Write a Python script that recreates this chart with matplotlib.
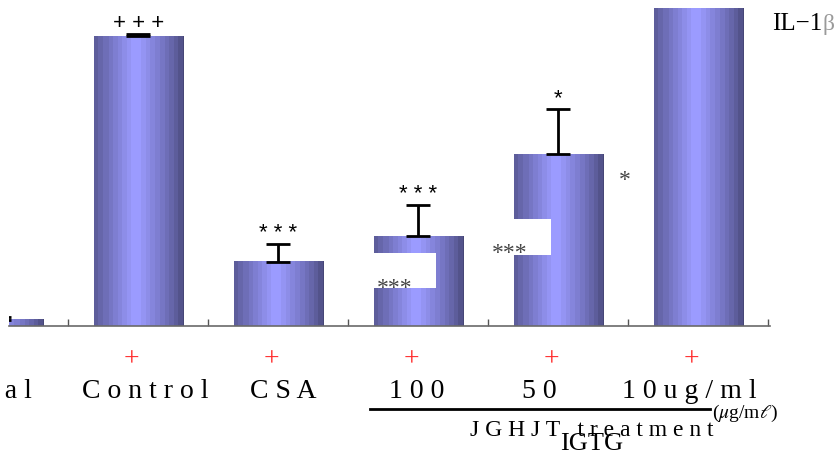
import numpy as np
import matplotlib.pyplot as plt
from matplotlib.patches import Rectangle

plt.rcParams['mathtext.fontset'] = 'stix'
SERIF = ['Liberation Serif', 'DejaVu Serif']
SANS = ['Liberation Sans', 'DejaVu Sans']

# data (IL-1beta, % of LPS control)
categories = ["N o r m a l", "C o n t r o l", "C S A", "1 0 0", "5 0", "1 0 u g / m l"]
il1b = [2.1, 100.0, 22.1, 31.0, 59.3, 110.0]
sem = [1.0, 0.7, 6.2, 10.7, 15.5, 0.0]
lps = ["", "+", "+", "+", "+", "+"]
marks = ["", "+ + +", "* * *", "* * *", "*", ""]

# label nudges in pixels (layout only)
label_dx = [-27, 7, 5, -2, -19, -9]

W, H = 839, 456
fig = plt.figure(figsize=(W / 100, H / 100), dpi=100)
ax = fig.add_axes([9 / W, 129 / H, 761 / W, 318 / H])

x = np.arange(len(categories))
bars = ax.bar(x, il1b, width=0.636, color='none', edgecolor='none', zorder=2)

# banded cylinder-like gradient
dark = np.array([70, 70, 118]) / 255
light = np.array([155, 155, 255]) / 255
u = np.linspace(0, 1, 80)
t = 1 - np.abs(u - 0.47) / 0.53
t = np.ceil(t * 10) / 10
img = (dark + (light - dark) * t[:, None] ** 0.8)[None, :, :]
for b in bars:
    x0, w, h = b.get_x(), b.get_width(), b.get_height()
    im = ax.imshow(img, extent=(x0, x0 + w, 0, h), aspect='auto',
                   interpolation='nearest', zorder=2)
    im.set_clip_path(b)
    im.set_clip_box(ax.bbox)

sem = np.array(sem)
il1b = np.array(il1b)
ok = sem > 0
ax.errorbar(x[ok], il1b[ok], yerr=[np.zeros(ok.sum()), sem[ok]], fmt='none',
            ecolor='k', elinewidth=2, capsize=8.6, capthick=2, zorder=3)

for i, m in enumerate(marks):
    if m:
        ax.annotate(m, (x[i], il1b[i] + sem[i]), xytext=(0, 1),
                    textcoords='offset points', ha='center', va='bottom',
                    fontsize=16, family=SANS)

# white boxes with grey asterisks on the 100 and 50 bars
ax.add_patch(Rectangle((x[3] - 0.318, 13.1), 0.443, 12.1, facecolor='white',
                       edgecolor='none', zorder=4))
ax.add_patch(Rectangle((x[4] - 0.489, 24.5), 0.435, 12.4, facecolor='white',
                       edgecolor='none', zorder=4))
ax.text(x[3] - 0.168, 11.5, "***", ha='center', va='baseline', fontsize=17,
        family=SERIF, color='#444444', zorder=5)
ax.text(x[4] - 0.346, 23.3, "***", ha='center', va='baseline', fontsize=17,
        family=SERIF, color='#444444', zorder=5)
ax.text(x[4] + 0.475, 48.5, "*", ha='center', va='baseline', fontsize=17,
        family=SERIF, color='#444444', zorder=5)

ax.set_xlim(0.075, 5.511)
ax.set_ylim(0, 109.7)
for s in ['top', 'right', 'left']:
    ax.spines[s].set_visible(False)
ax.spines['bottom'].set_color('#6a6a6a')
ax.spines['bottom'].set_linewidth(1.2)
ax.set_yticks([])
ax.set_xticks(np.arange(0.5, 6, 1))
ax.tick_params(axis='x', direction='in', length=5, width=1, color='#555555',
               labelbottom=False)

trans = ax.get_xaxis_transform()
for i, (c, p) in enumerate(zip(categories, lps)):
    if p:
        ax.annotate(p, (x[i], 0), xycoords=trans, xytext=(-7, -33),
                    textcoords='offset pixels', ha='center', va='center',
                    fontsize=20, family=SERIF, color='#ff2a2a')
    ax.annotate(c, (x[i], 0), xycoords=trans, xytext=(label_dx[i], -71),
                textcoords='offset pixels', ha='center', va='baseline',
                fontsize=20, family=SERIF)

# bracket under the JGHJT doses
ax.plot([x[3] - 0.346, x[5] + 0.082], [-0.261, -0.261], transform=trans,
        color='k', lw=2, clip_on=False)

fig.text(712 / W, 1 - 418 / H, r"($\mu$g/m$\ell$)", fontsize=14, family=SERIF,
         ha='left', va='baseline')
fig.text(470 / W, 1 - 436 / H, "J G H J T   t r e a t m e n t", fontsize=17,
         family=SERIF, ha='left', va='baseline')
fig.add_artist(Rectangle((553 / W, 0), 95 / W, 25 / H, transform=fig.transFigure,
                         facecolor='white', edgecolor='none'))
fig.text(560 / W, 1 - 450 / H, "IGTG", fontsize=19, family=SERIF,
         ha='left', va='baseline')

fig.text(772 / W, 1 - 30 / H, "IL\u22121", fontsize=18, family=SERIF,
         ha='left', va='baseline')
fig.text(823 / W, 1 - 30 / H, "\u03b2", fontsize=17, family=SERIF,
         ha='left', va='baseline', color='#9a9a9a')

fig.savefig('out.png', dpi=100)
